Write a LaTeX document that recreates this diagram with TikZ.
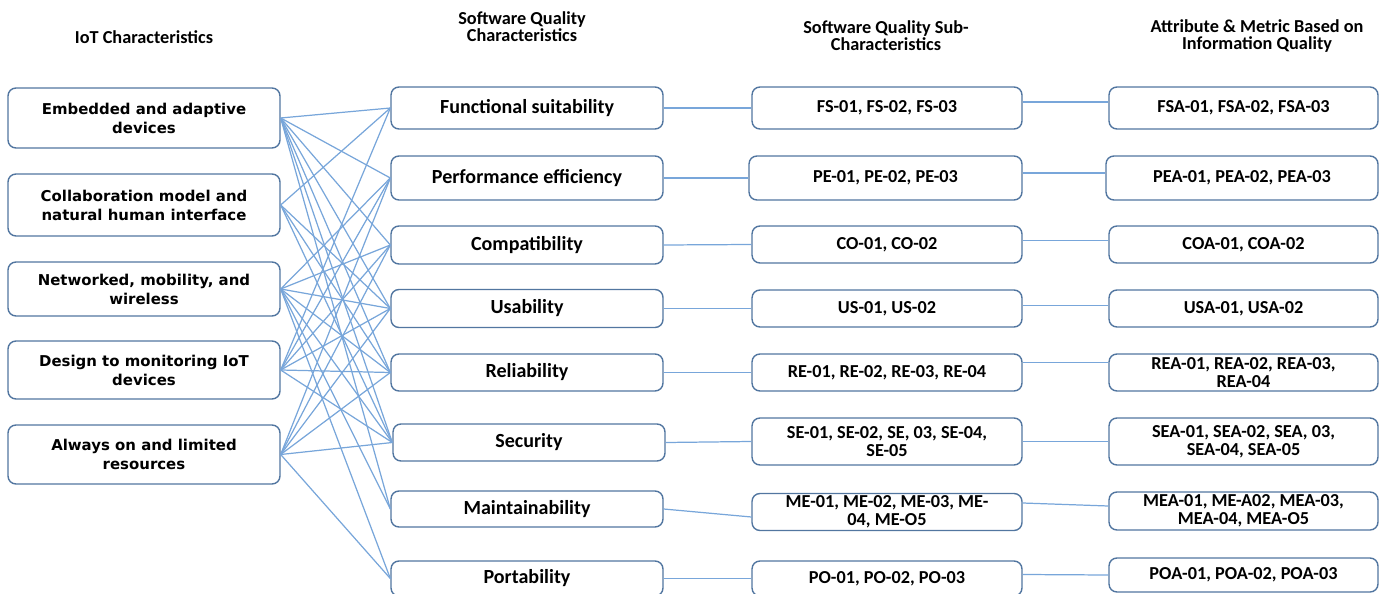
\documentclass[tikz,border=0pt]{standalone}
\usepackage{fontspec}
\setmainfont{Carlito}
\newfontfamily\verd{DejaVu Sans}
\definecolor{boxline}{RGB}{82,118,160}
\definecolor{linkline}{RGB}{120,166,218}
\begin{document}
\begin{tikzpicture}[x=0.02cm,y=-0.02cm,
  box/.style={draw=boxline, line width=0.8pt, rounded corners=4.5pt, fill=white, align=center, inner sep=0pt, font=\bfseries\fontsize{10.4pt}{10.3pt}\selectfont},
  lbox/.style={box, minimum width=5.44cm, font=\verd\bfseries\fontsize{8.5pt}{10.8pt}\selectfont},
  mbox/.style={box, minimum width=5.44cm, font=\bfseries\fontsize{11.4pt}{11pt}\selectfont},
  sbox/.style={box, minimum width=5.4cm},
  abox/.style={box, minimum width=5.38cm},
  head/.style={align=center, font=\bfseries\fontsize{10.4pt}{9.8pt}\selectfont},
  link/.style={draw=linkline, line width=0.7pt}]
\useasboundingbox (0,0) rectangle (1388,594);

% headers
\node[head] (h1) at (144,37) {IoT Characteristics};
\node[head] (h2) at (522,27) {Software Quality\\Characteristics};
\node[head] (h3) at (886,36) {Software Quality Sub-\\Characteristics};
\node[head] (h4) at (1257,36) {Attribute \& Metric Based on\\Information Quality};

% left column
\node[lbox, minimum height=1.2cm] (emb) at (144,118) {Embedded and adaptive\\devices};
\node[lbox, minimum height=1.24cm] (col) at (144,205) {Collaboration model and\\natural human interface};
\node[lbox, minimum height=1.08cm] (net) at (144,289) {Networked, mobility, and\\wireless};
\node[lbox, minimum height=1.16cm] (des) at (144,370) {Design to monitoring IoT\\devices};
\node[lbox, minimum height=1.18cm] (alw) at (144,454.5) {Always on and limited\\resources};

% middle column
\node[mbox, minimum height=0.84cm] (fun) at (527,108) {Functional suitability};
\node[mbox, minimum height=0.88cm] (per) at (527,178) {Performance efficiency};
\node[mbox, minimum height=0.76cm] (com) at (527,245) {Compatibility};
\node[mbox, minimum height=0.76cm] (usa) at (527,308.5) {Usability};
\node[mbox, minimum height=0.74cm] (rel) at (527,372.5) {Reliability};
\node[mbox, minimum height=0.74cm] (sec) at (529,442.5) {Security};
\node[mbox, minimum height=0.72cm] (mai) at (527,509) {Maintainability};
\node[mbox, minimum height=0.7cm] (por) at (527,578.5) {Portability};

% sub-characteristics
\node[sbox, minimum height=0.84cm] (fs) at (887,108) {FS-01, FS-02, FS-03};
\node[sbox, minimum height=0.88cm, minimum width=5.46cm] (pe) at (885.5,178) {PE-01, PE-02, PE-03};
\node[sbox, minimum height=0.74cm] (co) at (887,244.5) {CO-01, CO-02};
\node[sbox, minimum height=0.74cm] (us) at (887,308.5) {US-01, US-02};
\node[sbox, minimum height=0.74cm] (re) at (887,372.5) {RE-01, RE-02, RE-03, RE-04};
\node[sbox, minimum height=0.94cm] (se) at (887,441.5) {SE-01, SE-02, SE, 03, SE-04,\\SE-05};
\node[sbox, minimum height=0.74cm] (me) at (887,512) {ME-01, ME-02, ME-03, ME-\\04, ME-O5};
\node[sbox, minimum height=0.7cm] (po) at (887,578.5) {PO-01, PO-02, PO-03};

% attributes
\node[abox, minimum height=0.84cm] (fsa) at (1243.5,108) {FSA-01, FSA-02, FSA-03};
\node[abox, minimum height=0.88cm, minimum width=5.44cm] (pea) at (1242,178) {PEA-01, PEA-02, PEA-03};
\node[abox, minimum height=0.74cm] (coa) at (1243.5,244.5) {COA-01, COA-02};
\node[abox, minimum height=0.74cm] (usaa) at (1243.5,308.5) {USA-01, USA-02};
\node[abox, minimum height=0.74cm] (rea) at (1243.5,372.5) {REA-01, REA-02, REA-03,\\REA-04};
\node[abox, minimum height=0.94cm] (sea) at (1243.5,441.5) {SEA-01, SEA-02, SEA, 03,\\SEA-04, SEA-05};
\node[abox, minimum height=0.76cm] (mea) at (1243.5,511) {MEA-01, ME-A02, MEA-03,\\MEA-04, MEA-O5};
\node[abox, minimum height=0.68cm] (poa) at (1243.5,575) {POA-01, POA-02, POA-03};

% links left -> middle
\foreach \m in {fun,per,com,usa,rel,sec,mai} \draw[link] (emb.east) -- (\m.west);
\foreach \m in {fun,usa,rel,sec} \draw[link] (col.east) -- (\m.west);
\foreach \m in {per,com,usa,rel,sec,mai,por} \draw[link] (net.east) -- (\m.west);
\foreach \m in {fun,per,com,usa,rel,sec} \draw[link] (des.east) -- (\m.west);
\foreach \m in {per,com,usa,rel,sec,por} \draw[link] (alw.east) -- (\m.west);

% links middle -> sub -> attribute
\draw[link] (fun.east) -- (fs.west);
\draw[link] (per.east) -- (pe.west);
\draw[link] (com.east) -- (co.west);
\draw[link] (usa.east) -- (us.west);
\draw[link] (rel.east) -- (re.west);
\draw[link] (sec.east) -- (se.west);
\draw[link] (mai.east) -- ([yshift=-0.1cm]me.west);
\draw[link] (por.east) -- (po.west);
\draw[link] ([yshift=0.12cm]fs.east) -- ([yshift=0.12cm]fsa.west);
\draw[link] ([yshift=0.1cm]pe.east) -- ([yshift=0.1cm]pea.west);
\draw[link] ([yshift=0.08cm]co.east) -- ([yshift=0.08cm]coa.west);
\draw[link] ([yshift=0.06cm]us.east) -- ([yshift=0.06cm]usaa.west);
\draw[link] ([yshift=0.2cm]re.east) -- ([yshift=0.2cm]rea.west);
\draw[link] (se.east) -- (sea.west);
\draw[link] ([yshift=0.18cm]me.east) -- ([yshift=0.1cm]mea.west);
\draw[link] ([yshift=0.08cm]po.east) -- (poa.west);
\end{tikzpicture}
\end{document}
